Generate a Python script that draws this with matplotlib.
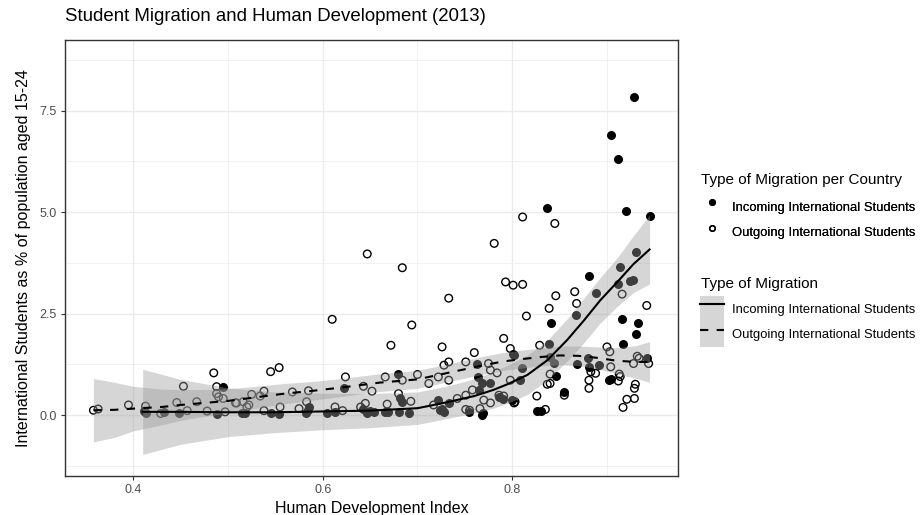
import numpy as np
import matplotlib
matplotlib.use("Agg")
import matplotlib.pyplot as plt
from matplotlib.lines import Line2D
from matplotlib.patches import Patch

plt.rcParams['font.family'] = ['Liberation Sans', 'DejaVu Sans']

# Incoming international students per country (HDI, % of pop. aged 15-24)
in_hdi = [0.929, 0.904, 0.912, 0.920, 0.837, 0.945, 0.881, 0.888, 0.867, 0.841,
          0.916, 0.933, 0.931, 0.917, 0.914, 0.912, 0.928, 0.931, 0.924, 0.839,
          0.801, 0.840, 0.844, 0.868, 0.880, 0.881, 0.892, 0.942, 0.810, 0.846,
          0.855, 0.902, 0.904, 0.826, 0.830, 0.769, 0.800, 0.679, 0.682, 0.684,
          0.623, 0.680, 0.691, 0.722, 0.726, 0.728, 0.733, 0.754, 0.763, 0.764,
          0.768, 0.765, 0.777, 0.768, 0.786, 0.790, 0.802, 0.808, 0.666, 0.495,
          0.411, 0.414, 0.448, 0.488, 0.432, 0.515, 0.518, 0.545, 0.554, 0.586,
          0.585, 0.605, 0.613, 0.643, 0.650, 0.654, 0.647, 0.669, 0.724, 0.582]
in_pct = [7.84, 6.90, 6.32, 5.04, 5.09, 4.91, 3.43, 3.01, 2.46, 2.27,
          2.36, 2.26, 2.01, 1.75, 3.65, 3.24, 3.33, 4.02, 3.30, 1.74,
          1.50, 1.44, 1.29, 1.27, 1.40, 1.19, 1.23, 1.40, 1.15, 0.97,
          0.57, 0.87, 0.90, 0.11, 0.11, 0.04, 0.37, 1.01, 0.41, 0.33,
          0.66, 0.08, 0.04, 0.37, 0.16, 0.08, 0.29, 0.08, 1.27, 0.94,
          0.78, 0.62, 0.78, 0.00, 0.45, 0.40, 1.48, 0.86, 0.08, 0.70,
          0.10, 0.06, 0.06, 0.02, 0.08, 0.06, 0.05, 0.04, 0.02, 0.20,
          0.12, 0.04, 0.08, 0.16, 0.11, 0.08, 0.06, 0.08, 0.12, 0.05]

# Outgoing international students per country
out_hdi = [0.358, 0.363, 0.395, 0.413, 0.429, 0.453, 0.446, 0.457, 0.467, 0.485,
           0.488, 0.488, 0.495, 0.478, 0.497, 0.508, 0.490, 0.545, 0.554, 0.525,
           0.538, 0.534, 0.568, 0.585, 0.624, 0.643, 0.652, 0.666, 0.509, 0.516,
           0.522, 0.520, 0.538, 0.555, 0.583, 0.575, 0.613, 0.621, 0.640, 0.645,
           0.668, 0.610, 0.647, 0.684, 0.694, 0.672, 0.733, 0.726, 0.760, 0.791,
           0.781, 0.811, 0.845, 0.793, 0.801, 0.811, 0.846, 0.866, 0.868, 0.839,
           0.815, 0.916, 0.942, 0.798, 0.728, 0.733, 0.751, 0.775, 0.777, 0.784,
           0.700, 0.684, 0.712, 0.722, 0.733, 0.680, 0.693, 0.717, 0.742, 0.751,
           0.758, 0.751, 0.755, 0.766, 0.770, 0.777, 0.786, 0.791, 0.803, 0.798,
           0.829, 0.900, 0.903, 0.932, 0.934, 0.944, 0.928, 0.904, 0.840, 0.883,
           0.881, 0.888, 0.913, 0.914, 0.912, 0.930, 0.929, 0.837, 0.881, 0.826,
           0.855, 0.921, 0.929, 0.917, 0.835, 0.840, 0.802]
out_pct = [0.12, 0.15, 0.25, 0.22, 0.04, 0.71, 0.31, 0.11, 0.33, 1.04,
           0.70, 0.53, 0.41, 0.10, 0.08, 0.30, 0.45, 1.07, 1.17, 0.51,
           0.59, 0.47, 0.57, 0.60, 0.94, 0.71, 0.59, 0.94, 0.30, 0.33,
           0.25, 0.20, 0.11, 0.20, 0.33, 0.16, 0.20, 0.11, 0.20, 0.29,
           0.27, 2.36, 3.97, 3.63, 2.22, 1.72, 2.88, 1.68, 1.54, 1.89,
           4.23, 4.88, 4.72, 3.28, 3.20, 3.22, 2.94, 3.04, 2.75, 2.63,
           2.44, 2.98, 2.70, 1.64, 1.23, 1.31, 1.31, 1.27, 1.11, 1.04,
           1.00, 0.86, 0.78, 0.94, 0.86, 0.53, 0.34, 0.25, 0.41, 0.49,
           0.62, 0.14, 0.12, 0.16, 0.37, 0.30, 0.49, 0.47, 0.33, 0.86,
           1.72, 1.68, 1.56, 1.45, 1.40, 1.27, 1.27, 1.19, 1.01, 1.07,
           0.86, 1.03, 1.01, 0.95, 0.84, 0.76, 0.66, 0.76, 0.66, 0.47,
           0.49, 0.39, 0.41, 0.19, 0.14, 0.78, 0.30]

# smoothed trends (fit and half-width of confidence band)
in_fit_x = [0.41, 0.45, 0.50, 0.55, 0.60, 0.65, 0.70, 0.73, 0.76, 0.78, 0.795,
            0.816, 0.837, 0.858, 0.876, 0.893, 0.911, 0.928, 0.945]
in_fit_y = [0.08, 0.08, 0.07, 0.07, 0.09, 0.11, 0.17, 0.31, 0.47, 0.62, 0.76,
            0.99, 1.35, 1.85, 2.34, 2.83, 3.28, 3.72, 4.08]
in_fit_se = [1.05, 0.80, 0.60, 0.50, 0.45, 0.42, 0.40, 0.40, 0.42, 0.45, 0.47,
             0.48, 0.49, 0.52, 0.55, 0.56, 0.60, 0.70, 0.85]

out_fit_x = [0.358, 0.38, 0.40, 0.43, 0.45, 0.47, 0.50, 0.53, 0.56, 0.59, 0.62, 0.66, 0.70, 0.73, 0.75,
             0.77, 0.79, 0.81, 0.83, 0.85, 0.87, 0.89, 0.91, 0.93, 0.945]
out_fit_y = [0.12, 0.13, 0.16, 0.20, 0.25, 0.29, 0.35, 0.44, 0.53, 0.60, 0.68, 0.80, 0.88, 1.03, 1.13,
             1.23, 1.32, 1.38, 1.43, 1.47, 1.46, 1.41, 1.34, 1.31, 1.31]
out_fit_se = [0.78, 0.68, 0.55, 0.44, 0.38, 0.34, 0.30, 0.27, 0.25, 0.23, 0.22, 0.22, 0.22, 0.22, 0.22,
              0.22, 0.22, 0.22, 0.22, 0.23, 0.24, 0.27, 0.32, 0.40, 0.50]

fig = plt.figure(figsize=(9.21, 5.15), dpi=100)
ax = fig.add_axes([65 / 921, 39 / 515, 613 / 921, 436 / 515])

ax.scatter(in_hdi, in_pct, s=30, color='black', zorder=2)
ax.scatter(out_hdi, out_pct, s=30, facecolor='none', edgecolor='black', linewidths=1.0, zorder=2)

for fx, fy, se, ls in [(in_fit_x, in_fit_y, in_fit_se, '-'), (out_fit_x, out_fit_y, out_fit_se, (0, (4, 4)))]:
    fx = np.array(fx)
    fy = np.array(fy)
    se = np.array(se)
    ax.fill_between(fx, fy - se, fy + se, color='#999999', alpha=0.4, lw=0, zorder=3)
    ax.plot(fx, fy, color='black', lw=1.5, linestyle=ls, zorder=4)

ax.set_xlim(0.328, 0.975)
ax.set_ylim(-1.5, 9.24)
ax.set_xticks([0.4, 0.6, 0.8])
ax.set_xticklabels(['0.4', '0.6', '0.8'])
ax.set_yticks([0.0, 2.5, 5.0, 7.5])
ax.set_yticklabels(['0.0', '2.5', '5.0', '7.5'])
ax.set_xticks([0.5, 0.7, 0.9], minor=True)
ax.set_yticks([-1.25, 1.25, 3.75, 6.25, 8.75], minor=True)
ax.grid(which='major', color='#EBEBEB', lw=1.0, zorder=0)
ax.grid(which='minor', color='#EBEBEB', lw=0.5, zorder=0)
ax.set_axisbelow(True)
ax.tick_params(which='major', length=3, color='#333333', labelsize=9, labelcolor='#4D4D4D', pad=3)
ax.tick_params(which='minor', length=0)
for sp in ax.spines.values():
    sp.set_color('#333333')
    sp.set_linewidth(1.0)

ax.set_xlabel('Human Development Index', fontsize=11.5, labelpad=3)
ax.set_ylabel('International Students as % of population aged 15-24', fontsize=11.5, labelpad=6)
ax.set_title('Student Migration and Human Development (2013)', fontsize=13.4, loc='left', x=0.0, pad=14)

# legends: titles as plain text, keys via fig.legend
labels = ['Incoming International Students', 'Outgoing International Students']
fig.text(701 / 921, 1 - 180 / 515, 'Type of Migration per Country', fontsize=11, va='center', ha='left')
fig.text(701 / 921, 1 - 284 / 515, 'Type of Migration', fontsize=11, va='center', ha='left')

leg_kw = dict(loc='upper left', frameon=False, fontsize=9.4, handlelength=1.84, handleheight=2.6,
              handletextpad=0.59, labelspacing=0.0, borderpad=0.0, borderaxespad=0.0)
h1 = [Line2D([], [], marker='o', ls='none', color='black', markersize=4),
      Line2D([], [], marker='o', ls='none', markerfacecolor='none', markeredgecolor='black', markersize=4)]
leg1 = fig.legend(h1, labels, bbox_to_anchor=(700 / 921, 1 - 194 / 515), **leg_kw)
band = Patch(facecolor='#D6D6D6', edgecolor='none')
h2 = [(band, Line2D([], [], color='black', lw=1.5)),
      (band, Line2D([], [], color='black', lw=1.5, linestyle=(0, (4, 4))))]
leg2 = fig.legend(h2, labels, bbox_to_anchor=(700 / 921, 1 - 296 / 515), **leg_kw)
fig.add_artist(leg1)

fig.savefig('out.png', dpi=100)
